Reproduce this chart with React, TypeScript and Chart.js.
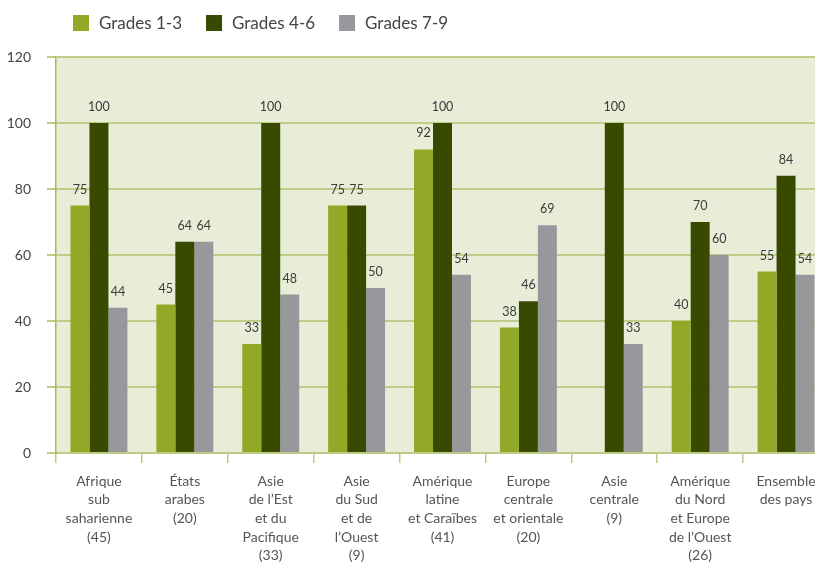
import React, { useEffect, useRef } from "react";
import { Chart, registerables } from "chart.js";

Chart.register(...registerables);

const categories: string[][] = [
  ["Afrique", "sub", "saharienne", "(45)"],
  ["États", "arabes", "(20)"],
  ["Asie", "de l’Est", "et du", "Pacifique", "(33)"],
  ["Asie", "du Sud", "et de", "l’Ouest", "(9)"],
  ["Amérique", "latine", "et Caraïbes", "(41)"],
  ["Europe", "centrale", "et orientale", "(20)"],
  ["Asie", "centrale", "(9)"],
  ["Amérique", "du Nord", "et Europe", "de l’Ouest", "(26)"],
  ["Ensemble", "des pays"],
];

const seriesNames = ["Grades 1-3", "Grades 4-6", "Grades 7-9"];
const grades13: (number | null)[] = [75, 45, 33, 75, 92, 38, null, 40, 55];
const grades46: (number | null)[] = [100, 64, 100, 75, 100, 46, 100, 70, 84];
const grades79: (number | null)[] = [44, 64, 48, 50, 54, 69, 33, 60, 54];
const yTicks = [0, 20, 40, 60, 80, 100, 120];

const colors = ["#93a826", "#384a00", "#98989c"];
const FONT = "Lato, 'Open Sans', sans-serif";

const bgPlugin = {
  id: "plotBg",
  beforeDraw(chart: any) {
    const { ctx, chartArea } = chart;
    ctx.save();
    ctx.fillStyle = "#e9edd8";
    ctx.fillRect(chartArea.left, chartArea.top, chartArea.right - chartArea.left, chartArea.bottom - chartArea.top);
    ctx.restore();
  },
};

const valueLabels = {
  id: "valueLabels",
  afterDatasetsDraw(chart: any) {
    const { ctx } = chart;
    ctx.save();
    ctx.font = `12.5px ${FONT}`;
    ctx.fillStyle = "#3a3a3a";
    ctx.textAlign = "center";
    ctx.textBaseline = "middle";
    chart.data.datasets.forEach((ds: any, i: number) => {
      const meta = chart.getDatasetMeta(i);
      meta.data.forEach((el: any, j: number) => {
        const v = ds.data[j];
        if (v === null || v === undefined) return;
        ctx.fillText(String(v), el.x, el.y - 16);
      });
    });
    ctx.restore();
  },
};

const customLegend = {
  id: "customLegend",
  afterDraw(chart: any) {
    const { ctx } = chart;
    ctx.save();
    ctx.font = `17px ${FONT}`;
    ctx.textBaseline = "middle";
    ctx.textAlign = "left";
    let x = 73;
    const y = 23;
    chart.data.datasets.forEach((ds: any) => {
      ctx.fillStyle = ds.backgroundColor;
      ctx.fillRect(x, y - 8, 16, 16);
      x += 16 + 10;
      ctx.fillStyle = "#444444";
      ctx.fillText(ds.label, x, y + 1);
      x += ctx.measureText(ds.label).width + 24;
    });
    ctx.restore();
  },
};

export default function App() {
  const ref = useRef<HTMLCanvasElement>(null);
  useEffect(() => {
    if (!ref.current) return;
    const chart = new Chart(ref.current, {
      type: "bar",
      data: {
        labels: categories,
        datasets: [
          { label: seriesNames[0], data: grades13, backgroundColor: colors[0] },
          { label: seriesNames[1], data: grades46, backgroundColor: colors[1] },
          { label: seriesNames[2], data: grades79, backgroundColor: colors[2] },
        ],
      },
      options: {
        responsive: false,
        animation: false,
        devicePixelRatio: 1,
        layout: { padding: { top: 57, right: 3, left: 0, bottom: 0 } },
        datasets: { bar: { categoryPercentage: 0.663, barPercentage: 1 } },
        plugins: { legend: { display: false }, tooltip: { enabled: false } },
        scales: {
          x: {
            grid: {
              display: true,
              drawOnChartArea: false,
              drawTicks: true,
              tickLength: 10,
              color: "#bccb84",
              lineWidth: 1.5,
            },
            border: { display: true, color: "#bccb84", width: 2 },
            ticks: {
              color: "#555555",
              font: { family: FONT, size: 14, lineHeight: 1.33 },
              padding: 9,
              maxRotation: 0,
              autoSkip: false,
            },
            afterFit(scale: any) {
              scale.height = 110;
            },
          },
          y: {
            min: 0,
            max: 120,
            afterBuildTicks(scale: any) {
              scale.ticks = yTicks.map((v) => ({ value: v }));
            },
            grid: { color: "#bfcd88", lineWidth: 2, tickLength: 9, drawTicks: true },
            border: { display: true, color: "#a9bb4c", width: 1.5 },
            ticks: {
              color: "#444444",
              font: { family: FONT, size: 14 },
              padding: 16,
            },
            afterFit(scale: any) {
              scale.width = 56;
            },
          },
        },
      },
      plugins: [bgPlugin, valueLabels, customLegend],
    } as any);
    return () => chart.destroy();
  }, []);
  return (
    <div
      style={{
        position: "fixed",
        left: 0,
        top: 0,
        width: 815,
        height: 563,
        overflow: "hidden",
        background: "#ffffff",
      }}
    >
      <canvas ref={ref} width={832} height={563} style={{ display: "block", width: 832, height: 563 }} />
    </div>
  );
}
